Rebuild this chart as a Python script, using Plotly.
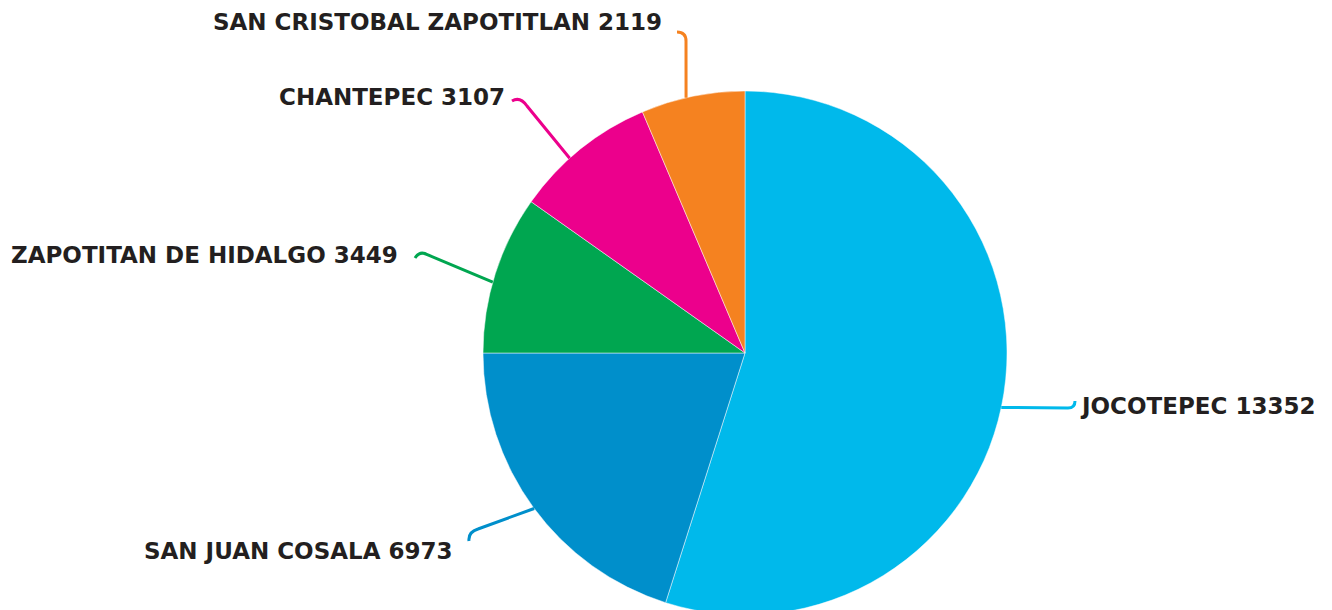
import math
import plotly.graph_objects as go

# ---- data ----
labels = ["JOCOTEPEC", "SAN JUAN COSALA", "ZAPOTITAN DE HIDALGO", "CHANTEPEC", "SAN CRISTOBAL ZAPOTITLAN"]
label_values = [13352, 6973, 3449, 3107, 2119]
# slice shares (%) as drawn in the picture
slice_share = [54.9, 20.1, 9.8, 8.8, 6.4]
colors = ["#00B9EB", "#008FCB", "#00A650", "#EC008C", "#F58220"]

# ---- layout (pixels) ----
W, H = 1332, 615
CX, CY, R = 745, 353, 262

def P(x, y):
    return x / W, 1 - y / H

# per-label: edge angle (deg clockwise from top), path after edge, text pos, anchor
label_layout = [
    dict(ang=102, path=[("L", 1068, 408), ("Q", 1075, 408, 1075, 401)], tx=1078, ty=406, anchor="left"),
    dict(ang=233.6, path=[("L", 478, 529), ("Q", 468, 532, 469, 541)], tx=454, ty=551, anchor="right"),
    dict(ang=285.7, path=[("L", 428, 255), ("Q", 420, 250, 415, 258)], tx=400, ty=255, anchor="right"),
    dict(ang=318, path=[("L", 527, 106), ("Q", 520, 96, 512, 101)], tx=507, ty=97, anchor="right"),
    dict(ang=347, path=[("L", 686, 41), ("Q", 686, 32, 677, 32)], tx=664, ty=22, anchor="right"),
]

fig = go.Figure()
px0, py1 = P(CX - R, CY - R)
px1, py0 = P(CX + R, CY + R)
fig.add_trace(go.Pie(
    labels=labels, values=slice_share, sort=False, direction="clockwise", rotation=0,
    marker=dict(colors=colors, line=dict(color="rgba(255,255,255,0.6)", width=0.8)),
    textinfo="none", customdata=label_values, hovertemplate="%{label} %{customdata}<extra></extra>",
    showlegend=False,
    domain=dict(x=[px0, px1], y=[max(py0, 0), py1]),
))

shapes = []
annotations = []
for lab, val, col, L in zip(labels, label_values, colors, label_layout):
    a = math.radians(L["ang"])
    sx, sy = CX + R * math.sin(a), CY - R * math.cos(a)
    x0, y0 = P(sx, sy)
    d = f"M {x0:.5f},{y0:.5f}"
    for seg in L["path"]:
        if seg[0] == "L":
            qx, qy = P(seg[1], seg[2])
            d += f" L {qx:.5f},{qy:.5f}"
        else:
            cx_, cy_ = P(seg[1], seg[2])
            ex, ey = P(seg[3], seg[4])
            d += f" Q {cx_:.5f},{cy_:.5f} {ex:.5f},{ey:.5f}"
    shapes.append(dict(type="path", path=d, xref="paper", yref="paper",
                       line=dict(color=col, width=3), layer="above"))
    ax, ay = P(L["tx"], L["ty"])
    annotations.append(dict(
        text=f"<b>{lab} {val}</b>", x=ax, y=ay, xref="paper", yref="paper",
        xanchor=L["anchor"], yanchor="middle", showarrow=False,
        font=dict(family="DejaVu Sans", size=23, color="#231F20"),
    ))

fig.update_layout(
    width=W, height=H, margin=dict(l=0, r=0, t=0, b=0),
    paper_bgcolor="white", plot_bgcolor="white",
    shapes=shapes, annotations=annotations,
)

fig.write_html("out.html", config={"displayModeBar": False},
               post_script="document.body.style.margin='0';document.body.style.overflow='hidden';")
